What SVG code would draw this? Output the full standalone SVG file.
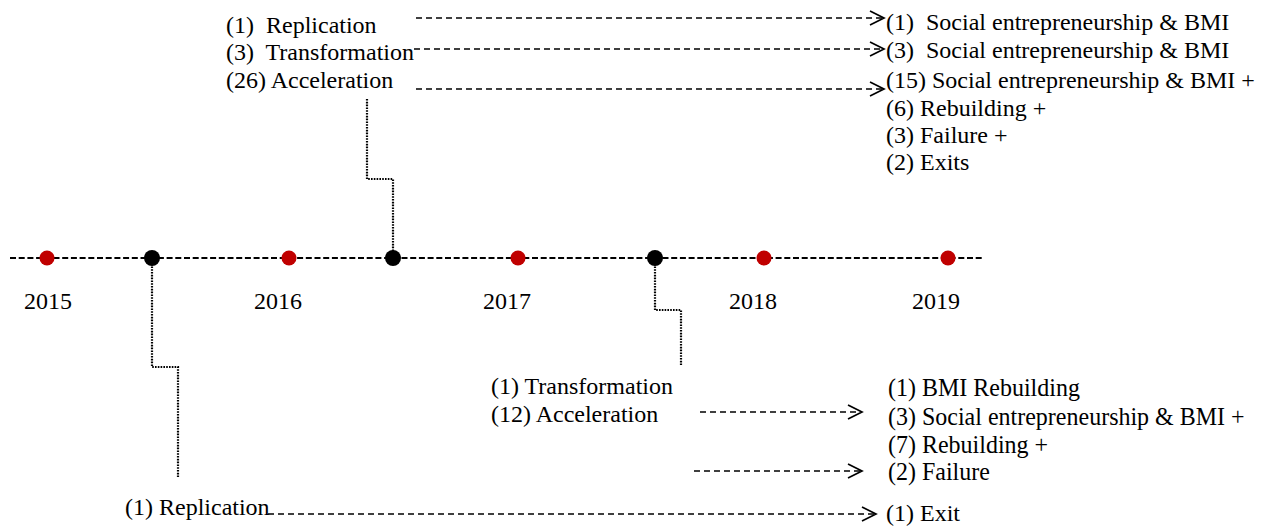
<svg xmlns="http://www.w3.org/2000/svg" width="1269" height="527" viewBox="0 0 1269 527">
<defs>
<style>
text{font-family:"Liberation Serif","Times New Roman",serif;font-size:24px;fill:#000;white-space:pre}
.tl{stroke:#000;stroke-width:1.8;stroke-dasharray:6 2.7;fill:none}
.dot{stroke:#000;stroke-width:2.2;stroke-dasharray:1.6 1.2;fill:none}
.arr{stroke:#000;stroke-width:1.6;stroke-dasharray:6 4;fill:none}
.head{stroke:#000;stroke-width:1.7;fill:none}
.red{fill:#c00000}
.blk{fill:#000}
</style>
</defs>
<rect width="1269" height="527" fill="#fff"/>
<g id="connectors">
<line class="tl" x1="10" y1="258" x2="984" y2="258"/>
<polyline class="dot" points="367,99 367,179 393,179 393,258"/>
<polyline class="dot" points="152,258 152,367 178,367 178,477"/>
<polyline class="dot" points="655,258 655,310 681,310 681,365"/>
<line class="arr" x1="416" y1="18" x2="882" y2="18"/>
<path class="head" d="M870,11 L884,18 L870,25"/>
<line class="arr" x1="414" y1="49" x2="882" y2="49"/>
<path class="head" d="M870,42 L884,49 L870,56"/>
<line class="arr" x1="416" y1="89" x2="882" y2="89"/>
<path class="head" d="M870,82 L884,89 L870,96"/>
<line class="arr" x1="700" y1="412" x2="860" y2="412"/>
<path class="head" d="M848,405 L862,412 L848,419"/>
<line class="arr" x1="694" y1="471" x2="860" y2="471"/>
<path class="head" d="M848,464 L862,471 L848,478"/>
<line class="arr" x1="268" y1="514" x2="874" y2="514"/>
<path class="head" d="M862,507 L876,514 L862,521"/>
</g>
<g id="timeline-dots">
<circle class="red" cx="47" cy="258" r="7.5"/>
<circle class="blk" cx="152" cy="258" r="8"/>
<circle class="red" cx="289" cy="258" r="7.5"/>
<circle class="blk" cx="393" cy="258" r="8"/>
<circle class="red" cx="518" cy="258" r="7.5"/>
<circle class="blk" cx="655" cy="258" r="8"/>
<circle class="red" cx="764" cy="258" r="7.5"/>
<circle class="red" cx="948" cy="258" r="7.5"/>
</g>
<g id="years">
<text x="24" y="309">2015</text>
<text x="254" y="309">2016</text>
<text x="483" y="309">2017</text>
<text x="729" y="309">2018</text>
<text x="912" y="309">2019</text>
</g>
<g id="top-left">
<text x="226" y="33">(1)  Replication</text>
<text x="226" y="60">(3)  Transformation</text>
<text x="226" y="88">(26) Acceleration</text>
</g>
<g id="top-right">
<text x="886" y="30">(1)  Social entrepreneurship &amp; BMI</text>
<text x="886" y="58">(3)  Social entrepreneurship &amp; BMI</text>
<text x="886" y="88">(15) Social entrepreneurship &amp; BMI +</text>
<text x="886" y="116">(6) Rebuilding +</text>
<text x="886" y="143">(3) Failure +</text>
<text x="886" y="170">(2) Exits</text>
</g>
<g id="mid-left">
<text x="491" y="394">(1) Transformation</text>
<text x="491" y="422">(12) Acceleration</text>
</g>
<g id="mid-right" transform="scale(1 1.08)">
<text x="888" y="366.7">(1) BMI Rebuilding</text>
<text x="888" y="393.5">(3) Social entrepreneurship &amp; BMI +</text>
<text x="888" y="419.4">(7) Rebuilding +</text>
<text x="888" y="444.4">(2) Failure</text>
</g>
<g id="bottom">
<text x="125" y="515">(1) Replication</text>
<text x="886" y="521">(1) Exit</text>
</g>
</svg>
